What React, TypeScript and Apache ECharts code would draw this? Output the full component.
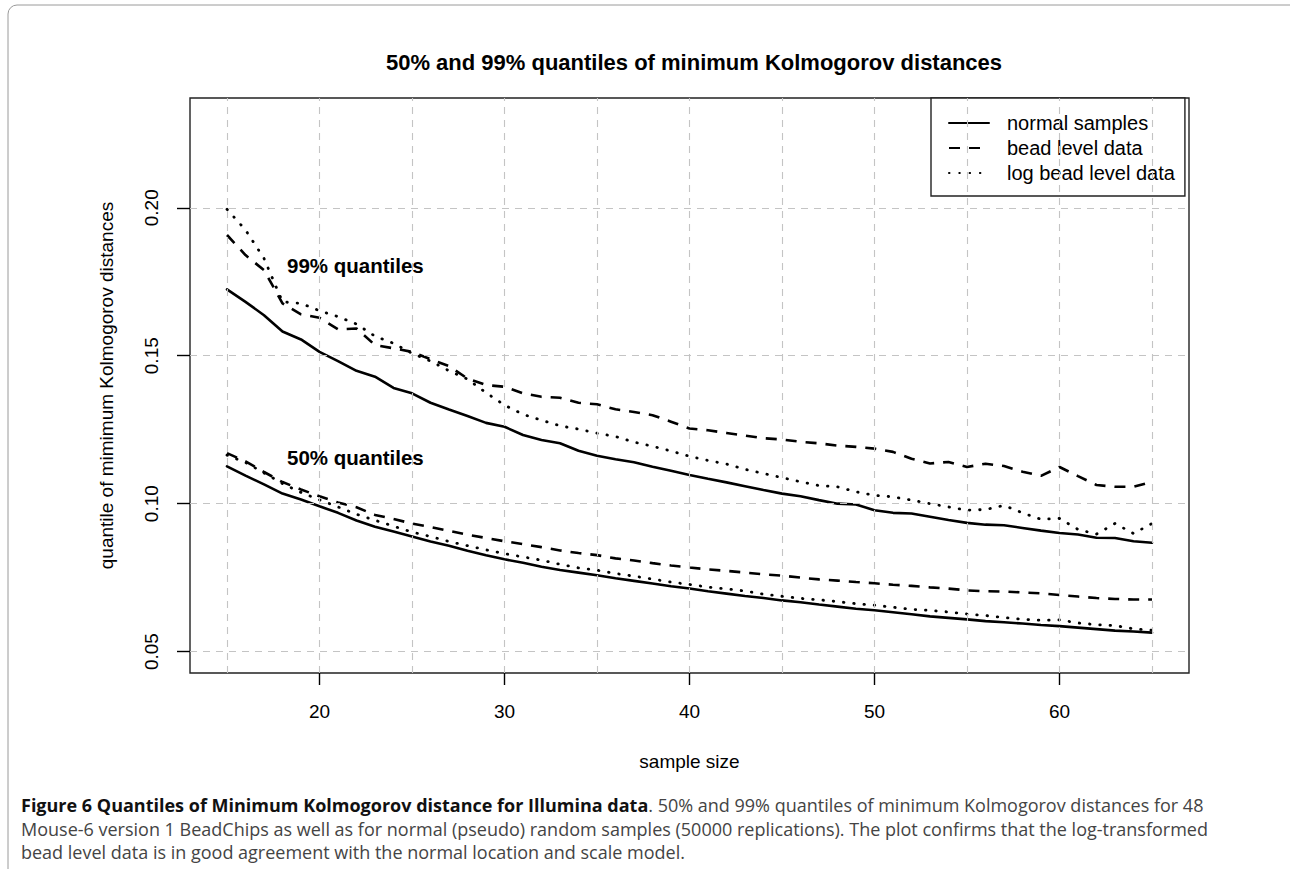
import React, { useEffect, useRef } from "react";
import * as echarts from "echarts";

// ---------- data ----------
const sampleSizes = [
  15, 16, 17, 18, 19, 20, 21, 22, 23, 24, 25, 26, 27, 28, 29, 30, 31, 32, 33, 34, 35, 36, 37, 38, 39, 40,
  41, 42, 43, 44, 45, 46, 47, 48, 49, 50, 51, 52, 53, 54, 55, 56, 57, 58, 59, 60, 61, 62, 63, 64, 65,
];

const normal99 = [
  0.1724, 0.1682, 0.1637, 0.1582, 0.1555, 0.1513, 0.1482, 0.1449, 0.1429, 0.1391, 0.1373, 0.1341, 0.1318,
  0.1296, 0.1273, 0.126, 0.1232, 0.1215, 0.1204, 0.1179, 0.1162, 0.115, 0.114, 0.1125, 0.1111, 0.1097,
  0.1084, 0.1072, 0.1059, 0.1046, 0.1034, 0.1025, 0.1012, 0.1, 0.0997, 0.0978, 0.0969, 0.0967, 0.0956,
  0.0945, 0.0935, 0.0929, 0.0927, 0.0918, 0.0909, 0.0901, 0.0896, 0.0885, 0.0884, 0.0873, 0.0868,
];

const bead99 = [
  0.1908, 0.184, 0.1789, 0.1677, 0.164, 0.1628, 0.1589, 0.1592, 0.1536, 0.1525, 0.1513, 0.1488, 0.1465,
  0.1423, 0.1401, 0.1395, 0.1373, 0.1361, 0.1358, 0.1341, 0.1336, 0.1319, 0.131, 0.1299, 0.1277, 0.1254,
  0.1248, 0.1239, 0.123, 0.1221, 0.1217, 0.1209, 0.1204, 0.1196, 0.1192, 0.1186, 0.1175, 0.1152, 0.1136,
  0.1141, 0.1124, 0.1135, 0.1127, 0.1108, 0.1094, 0.1124, 0.1093, 0.1063, 0.1057, 0.1057, 0.1074,
];

const logBead99 = [
  0.1995, 0.1925, 0.1829, 0.1682, 0.1677, 0.1652, 0.1632, 0.1607, 0.1566, 0.1542, 0.1508, 0.1482, 0.1449,
  0.1421, 0.1375, 0.1333, 0.1302, 0.1282, 0.1263, 0.1252, 0.1238, 0.1227, 0.1208, 0.1194, 0.1178, 0.116,
  0.1146, 0.1134, 0.1116, 0.1102, 0.1088, 0.1074, 0.1061, 0.1057, 0.104, 0.1028, 0.1023, 0.1012, 0.1,
  0.0989, 0.0978, 0.098, 0.0994, 0.0969, 0.0947, 0.095, 0.0913, 0.0897, 0.0933, 0.0899, 0.0933,
];

const normal50 = [
  0.1126, 0.1095, 0.1065, 0.1034, 0.1014, 0.0991, 0.0969, 0.0943, 0.0922, 0.0906, 0.0889, 0.0872, 0.0858,
  0.0841, 0.0826, 0.0812, 0.08, 0.0787, 0.0776, 0.0767, 0.0758, 0.0748, 0.0739, 0.073, 0.0721, 0.0713,
  0.0704, 0.0696, 0.0688, 0.0681, 0.0673, 0.0667, 0.0659, 0.0652, 0.0645, 0.064, 0.0633, 0.0626, 0.0619,
  0.0614, 0.0609, 0.0603, 0.0599, 0.0595, 0.059, 0.0586, 0.0581, 0.0576, 0.0571, 0.0568, 0.0564,
];

const bead50 = [
  0.1171, 0.1143, 0.1107, 0.1073, 0.1048, 0.1025, 0.1004, 0.0988, 0.0962, 0.0948, 0.0933, 0.0921, 0.0908,
  0.0895, 0.0884, 0.0873, 0.0863, 0.0853, 0.0842, 0.0833, 0.0826, 0.0815, 0.0808, 0.0799, 0.0791, 0.0784,
  0.0778, 0.0773, 0.0767, 0.0761, 0.0757, 0.075, 0.0744, 0.074, 0.0735, 0.0731, 0.0726, 0.0722, 0.0717,
  0.0713, 0.0707, 0.0704, 0.0703, 0.07, 0.0697, 0.0691, 0.0686, 0.0681, 0.0678, 0.0676, 0.0676,
];

const logBead50 = [
  0.1164, 0.1139, 0.1104, 0.1068, 0.1038, 0.1013, 0.0989, 0.0964, 0.0944, 0.0924, 0.0904, 0.0889, 0.0872,
  0.0858, 0.0844, 0.0831, 0.082, 0.0809, 0.0795, 0.0783, 0.0775, 0.0764, 0.0755, 0.0745, 0.0735, 0.0727,
  0.0718, 0.0712, 0.0705, 0.0694, 0.0687, 0.068, 0.0675, 0.0669, 0.0662, 0.0657, 0.065, 0.0643, 0.0639,
  0.0634, 0.0627, 0.0622, 0.0615, 0.0609, 0.0606, 0.0607, 0.0597, 0.0591, 0.0588, 0.0577, 0.0572,
];

const seriesNames = ["normal samples", "bead level data", "log bead level data"];
const xTickValues = [20, 30, 40, 50, 60];
const yTickValues = [0.05, 0.1, 0.15, 0.2];
const xGridValues = [15, 20, 25, 30, 35, 40, 45, 50, 55, 60, 65];
const yGridValues = [0.05, 0.1, 0.15, 0.2];

const titleText = "50% and 99% quantiles of minimum Kolmogorov distances";
const xAxisTitle = "sample size";
const yAxisTitle = "quantile of mimimum Kolmogorov distances";
const label99 = "99% quantiles";
const label50 = "50% quantiles";
const captionBold = "Figure 6 Quantiles of Minimum Kolmogorov distance for Illumina data";
const captionLine1 = ". 50% and 99% quantiles of minimum Kolmogorov distances for 48";
const captionLine2 =
  "Mouse-6 version 1 BeadChips as well as for normal (pseudo) random samples (50000 replications). The plot confirms that the log-transformed";
const captionLine3 = "bead level data is in good agreement with the normal location and scale model.";

const FONT = "'Liberation Sans', Arial, Helvetica, sans-serif";
const CAP_FONT = "'Open Sans', 'Noto Sans', sans-serif";

const styles: Record<string, any> = {
  "normal samples": { type: "solid", width: 2.6, cap: "round" },
  "bead level data": { type: [11, 9], width: 2.6, cap: "butt" },
  "log bead level data": { type: [0.5, 9.8], width: 2.8, cap: "round" },
};

function makeLine(name: string, values: number[]) {
  return {
    type: "line",
    name,
    data: sampleSizes.map((x, i) => [x, values[i]]),
    symbol: "none",
    showSymbol: false,
    z: 3,
    lineStyle: { color: "#000", ...styles[name] },
    itemStyle: { color: "#000" },
    emphasis: { disabled: true },
  };
}

export default function App() {
  const ref = useRef<HTMLDivElement>(null);
  useEffect(() => {
    if (!ref.current) return;
    const chart = echarts.init(ref.current, undefined, { renderer: "svg" });
    const option: any = {
      animation: false,
      backgroundColor: "#fff",
      title: {
        text: titleText,
        left: 689,
        top: 46,
        textAlign: "center",
        textStyle: { fontFamily: FONT, fontSize: 22, fontWeight: "bold", color: "#000" },
      },
      grid: {
        left: 190,
        top: 98,
        right: 101,
        bottom: 196,
        show: true,
        borderColor: "#222",
        borderWidth: 1.4,
        backgroundColor: "transparent",
      },
      legend: {
        data: seriesNames,
        orient: "vertical",
        left: 931,
        top: 98,
        itemWidth: 40,
        itemHeight: 14,
        itemGap: 5,
        padding: [15, 10, 13, 17],
        borderColor: "#222",
        borderWidth: 1.4,
        backgroundColor: "#fff",
        selectedMode: false,
        itemStyle: { opacity: 0, color: "transparent", borderColor: "transparent", borderWidth: 0 },
        textStyle: { fontFamily: FONT, fontSize: 20, color: "#000", padding: [0, 0, 0, 13] },
      },
      xAxis: {
        type: "value",
        min: 13,
        max: 67,
        name: xAxisTitle,
        nameLocation: "middle",
        nameGap: 79,
        nameTextStyle: { fontFamily: FONT, fontSize: 19, color: "#000" },
        axisLine: { show: false },
        splitLine: { show: false },
        axisTick: {
          show: true,
          customValues: xTickValues,
          length: 12,
          lineStyle: { color: "#000", width: 1.4 },
        },
        axisLabel: {
          customValues: xTickValues,
          fontFamily: FONT,
          fontSize: 19,
          color: "#000",
          margin: 29,
        },
      },
      yAxis: {
        type: "value",
        min: 0.04277,
        max: 0.2371,
        name: yAxisTitle,
        nameLocation: "middle",
        nameGap: 74,
        nameRotate: 90,
        nameTextStyle: { fontFamily: FONT, fontSize: 19, color: "#000" },
        axisLine: { show: false },
        splitLine: { show: false },
        axisTick: {
          show: true,
          customValues: yTickValues,
          length: 13,
          lineStyle: { color: "#000", width: 1.4 },
        },
        axisLabel: {
          customValues: yTickValues,
          rotate: 90,
          fontFamily: FONT,
          fontSize: 19,
          color: "#000",
          margin: 29,
          formatter: (v: number) => v.toFixed(2),
        },
      },
      series: [
        {
          type: "line",
          name: "grid",
          data: [],
          z: 1,
          silent: true,
          markLine: {
            silent: true,
            symbol: ["none", "none"],
            label: { show: false },
            lineStyle: { color: "#c4c4c4", type: [7, 6], width: 1.1 },
            data: [
              ...xGridValues.map((v) => ({ xAxis: v })),
              ...yGridValues.map((v) => ({ yAxis: v })),
            ],
          },
        },
        makeLine(seriesNames[0], normal99),
        makeLine(seriesNames[1], bead99),
        makeLine(seriesNames[2], logBead99),
        makeLine(seriesNames[0], normal50),
        makeLine(seriesNames[1], bead50),
        makeLine(seriesNames[2], logBead50),
      ],
      graphic: [
        {
          type: "rect",
          silent: true,
          shape: { x: 8, y: 5, width: 1300, height: 880, r: 9 },
          style: { fill: "none", stroke: "#9a9a9a", lineWidth: 1 },
          z: -1,
        },
        {
          type: "text",
          left: 287,
          top: 255,
          style: { text: label99, font: `bold 20.5px ${FONT}`, fill: "#000" },
        },
        {
          type: "text",
          left: 287,
          top: 447,
          style: { text: label50, font: `bold 20.5px ${FONT}`, fill: "#000" },
        },
        {
          type: "text",
          left: 21,
          top: 796,
          style: {
            text: `{b|${captionBold}}{r|${captionLine1}}\n{r|${captionLine2}}\n{r|${captionLine3}}`,
            rich: {
              b: { font: `bold 18px ${CAP_FONT}`, fill: "#111", lineHeight: 23.5 },
              r: { font: `18px ${CAP_FONT}`, fill: "#444", lineHeight: 23.5 },
            },
          },
        },
      ],
    };
    chart.setOption(option);
    return () => chart.dispose();
  }, []);
  return (
    <div
      ref={ref}
      style={{ position: "absolute", left: 0, top: 0, width: 1290, height: 869 }}
    />
  );
}
